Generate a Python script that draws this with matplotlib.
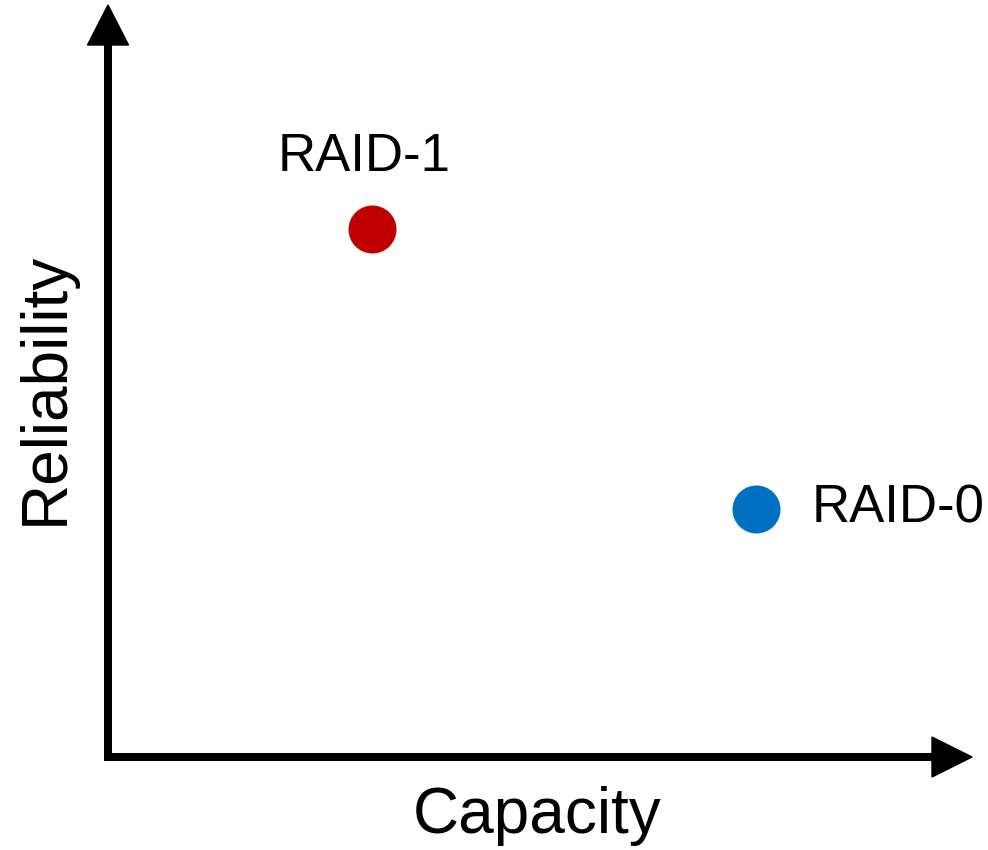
import matplotlib
matplotlib.use("Agg")
import matplotlib.pyplot as plt
from matplotlib.patches import Polygon

plt.rcParams['font.family'] = ['Liberation Sans', 'DejaVu Sans']

# Data
labels = ["RAID-1", "RAID-0"]
capacity = [3.05, 7.5]
reliability = [7.02, 3.3]
colors = ["#C00000", "#0070C0"]
x_label = "Capacity"
y_label = "Reliability"

W, H = 988, 850
fig = plt.figure(figsize=(W / 100, H / 100), dpi=100)
# axes origin at pixel (108, 757), extends to arrow tips (972, 5)
ax = fig.add_axes([108 / W, (H - 757) / H, 864 / W, 752 / H])
ax.set_xlim(0, 10)
ax.set_ylim(0, 10)
ax.axis("off")

lw = 8 * 0.72
hx = 40 / 864
hy = 40 / 752
ax.plot([-4 / 864, 1 - hx + 0.002], [0, 0], color="black", lw=lw,
        transform=ax.transAxes, clip_on=False, solid_capstyle="butt")
ax.plot([0, 0], [0, 1 - hy + 0.002], color="black", lw=lw,
        transform=ax.transAxes, clip_on=False, solid_capstyle="butt")
ax.add_patch(Polygon([[1 - hx, -20 / 752], [1, 0], [1 - hx, 20 / 752]],
                     closed=True, color="black", transform=ax.transAxes, clip_on=False))
ax.add_patch(Polygon([[-20.5 / 864, 1 - hy], [0, 1], [20.5 / 864, 1 - hy]],
                     closed=True, color="black", transform=ax.transAxes, clip_on=False))

for x, y, c in zip(capacity, reliability, colors):
    ax.plot(x, y, "o", color=c, markersize=48 * 0.72, markeredgewidth=0, clip_on=False)

fs = 38
ax.annotate(labels[0], (capacity[0], reliability[0]), xytext=(-7, 58),
            textcoords="offset pixels", ha="center", va="baseline", fontsize=fs)
ax.annotate(labels[1], (capacity[1], reliability[1]), xytext=(56, -14),
            textcoords="offset pixels", ha="left", va="baseline", fontsize=fs)

fs_ax = 46
fig.text(537.5 / W, (H - 833) / H, x_label, ha="center", va="baseline", fontsize=fs_ax)
fig.text(63 / W, (H - 388.5) / H, y_label, ha="center", va="baseline",
         rotation=90, rotation_mode="anchor", fontsize=fs_ax)

fig.savefig("out.png", dpi=100)
